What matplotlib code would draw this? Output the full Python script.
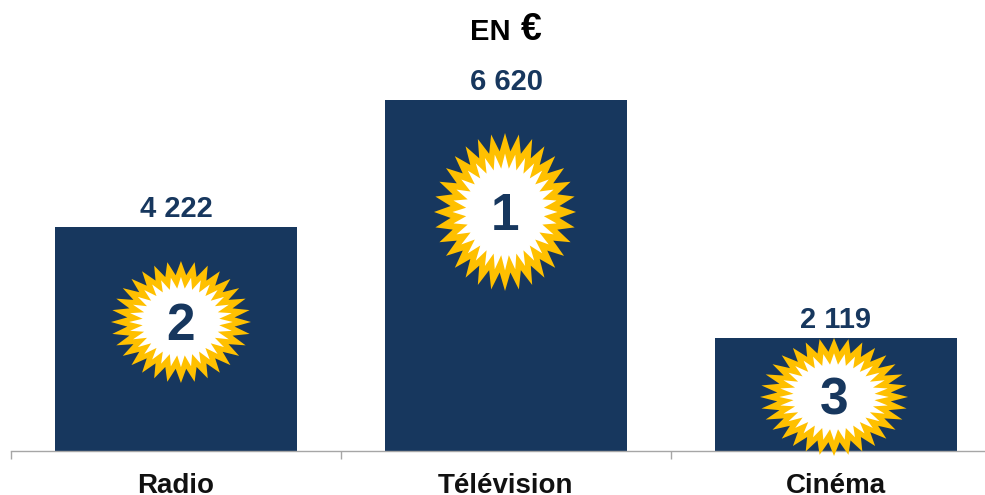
#!/usr/bin/env python3
"""Bar chart of three media budgets, each bar with a ranking star."""

import numpy as np
import matplotlib
matplotlib.use("Agg")
import matplotlib.pyplot as plt
from matplotlib.transforms import IdentityTransform

categories = ["Radio", "Télévision", "Cinéma"]
values = [4222, 6620, 2119]
value_labels = ["4 222", "6 620", "2 119"]
ranks = ["2", "1", "3"]

NAVY = "#17375e"
GOLD = "#ffc000"
GREY = "#a6a6a6"
W, H = 985, 495

# where each star sits (data coords) and its pixel radii
star_x = [0.015, 0.997, 1.994]
star_y = [2427, 4505, 1011]
star_rx = [70, 71, 74]
star_ry = [61, 79, 59]


def star_points(cx, cy, rx, ry, tip, valley, n=32):
    ang = np.pi / 2 + np.arange(2 * n) * np.pi / n
    r = np.where(np.arange(2 * n) % 2 == 0, tip, valley)
    return cx + rx * r * np.cos(ang), cy + ry * r * np.sin(ang)


plt.rcParams["font.family"] = ["Liberation Sans", "DejaVu Sans"]
plt.rcParams["font.weight"] = "bold"

fig = plt.figure(figsize=(W / 100, H / 100), dpi=100)
# category band is 330 px, the last one runs off the right edge
ax = fig.add_axes([11 / W, (H - 450.5) / H, 990 / W, 450.5 / H])
ax.set_xlim(-0.5, 2.5)
ax.set_ylim(0, 6620 * 450.5 / 350.5)

x = np.arange(len(categories))
ax.bar(x, values, width=0.733, color=NAVY, zorder=2)

for i, v in enumerate(values):
    ax.annotate(value_labels[i], (x[i], v), xytext=(0, 4), textcoords="offset pixels",
                ha="center", va="bottom", fontsize=21, color=NAVY)

ax.set_xticks(x, categories)
ax.set_xticks([-0.5, 0.5, 1.5, 2.5], minor=True)
ax.tick_params(axis="x", which="major", length=0, pad=16.5, labelsize=20, labelcolor="#111111")
ax.tick_params(axis="x", which="minor", length=6, width=1, color=GREY)
ax.set_yticks([])
for side in ["top", "left", "right"]:
    ax.spines[side].set_visible(False)
ax.spines["bottom"].set_color(GREY)
ax.spines["bottom"].set_linewidth(1)
ax.patch.set_visible(False)

for i in range(len(values)):
    cx, cy = ax.transData.transform((star_x[i], star_y[i]))
    px, py = star_points(cx, cy, star_rx[i], star_ry[i], 1.0, 0.77)
    ax.fill(px, py, color=GOLD, lw=0, zorder=3, transform=IdentityTransform(), clip_on=False)
    px, py = star_points(cx, cy, star_rx[i], star_ry[i], 0.74, 0.55)
    ax.fill(px, py, color="white", lw=0, zorder=4, transform=IdentityTransform(), clip_on=False)
    ax.text(cx, cy + 1, ranks[i], transform=IdentityTransform(), ha="center", va="center_baseline",
            fontsize=37, color=NAVY, zorder=5)

fig.text(470 / W, (H - 40) / H, "EN", fontsize=21, color="black", ha="left", va="baseline")
fig.text(521 / W, (H - 40) / H, "€", fontsize=27, color="black", ha="left", va="baseline")

fig.savefig("out.png", dpi=100)
